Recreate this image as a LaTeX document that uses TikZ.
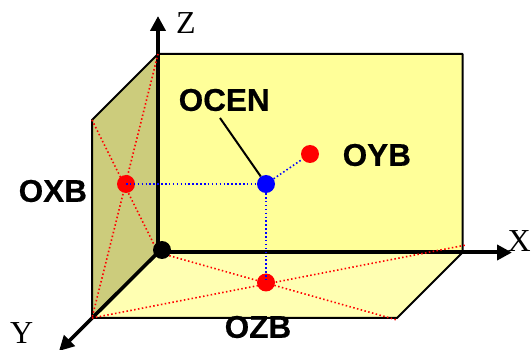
\documentclass[tikz,border=0pt]{standalone}
\usepackage{fontspec}
\setmainfont{Liberation Sans}
\newfontfamily\axisfont{Liberation Serif}
\newfontfamily\labfont[FakeBold=0.5]{Liberation Sans Bold}
\usetikzlibrary{arrows.meta}
\tikzset{
  x=1pt,y=-1pt,
  axisline/.style={line width=4pt,-{Triangle[width=15pt,length=15pt]}},
  yaxisline/.style={line width=3.6pt,-{Triangle[width=15pt,length=15pt]}},
  edge/.style={black,line width=2pt,line join=round},
  reddots/.style={red,line width=1.6pt,dash pattern=on 1.5pt off 2.4pt},
  bluedots/.style={blue,line width=1.6pt,dash pattern=on 1.5pt off 2.4pt},
  pt/.style={circle,inner sep=0pt,minimum size=18pt,fill=#1},
  lab/.style={font=\labfont\fontsize{31.5}{31.5}\selectfont,inner sep=0pt,text=black},
  axlab/.style={font=\axisfont\fontsize{32}{32}\selectfont,inner sep=0pt,text=black}
}
\begin{document}
\begin{tikzpicture}
\useasboundingbox (0,0) rectangle (531,350);
\coordinate (O) at (158,252.5);
\coordinate (TL) at (158,54);
\coordinate (TR) at (462.5,54);
\coordinate (BR) at (462.5,252.5);
\coordinate (LT) at (92,120);
\coordinate (LB) at (92,318);
\coordinate (FR) at (397,318);
\coordinate (Xend) at (512,252.5);
\coordinate (Yend) at (59,351);
\coordinate (Zend) at (158,16);
\coordinate (Rtr) at (466,245);
\coordinate (Rfr) at (397,320);
% faces
\fill[fill={rgb,255:red,255;green,255;blue,153}] (TL) rectangle (BR);
\fill[fill={rgb,255:red,204;green,204;blue,124}] (TL) -- (LT) -- (LB) -- (O) -- cycle;
\fill[fill={rgb,255:red,255;green,255;blue,178}] (O) -- (BR) -- (FR) -- (LB) -- cycle;
% edges
\draw[edge] (LB) -- (LT) -- (TL) -- (TR) -- (BR) -- (FR) -- (LB);
% nodes
\node[pt=blue] (CEN) at (266,184) {};
\node[pt=red] (XB) at (126,184) {};
\node[pt=red] (YB) at (310,154) {};
\node[pt=red] (ZB) at (266,282.5) {};
% axes
\draw[axisline] (O) -- (Xend);
\draw[axisline] (O) -- (Zend);
\draw[yaxisline] (O) -- (Yend);
% dotted
\draw[reddots] (LT) -- (O);
\draw[reddots] (TL) -- (LB);
\draw[reddots] (O) -- (Rfr);
\draw[reddots] (LB) -- (Rtr);
\draw[bluedots] (XB.center) -- (CEN);
\draw[bluedots] (CEN) -- (YB);
\draw[bluedots] (CEN) -- (ZB.center);
\node[circle,fill=black,inner sep=0pt,minimum size=18pt] (OO) at (162,250) {};
% leader
\node[lab,anchor=west] (OCEN) at (178.5,100) {OCEN};
\draw[black,line width=2pt] (220,118) -- (CEN);
\node[lab,anchor=west] (OXB) at (18.5,191) {OXB};
\node[lab,anchor=west] (OYB) at (342.5,155) {OYB};
\node[lab,anchor=west] (OZB) at (224.5,327) {OZB};
\node[axlab,anchor=west] (Z) at (176,23) {Z};
\node[axlab,anchor=west] (X) at (507.5,241) {X};
\node[axlab,anchor=west] (Y) at (10,333) {Y};
\end{tikzpicture}
\end{document}
